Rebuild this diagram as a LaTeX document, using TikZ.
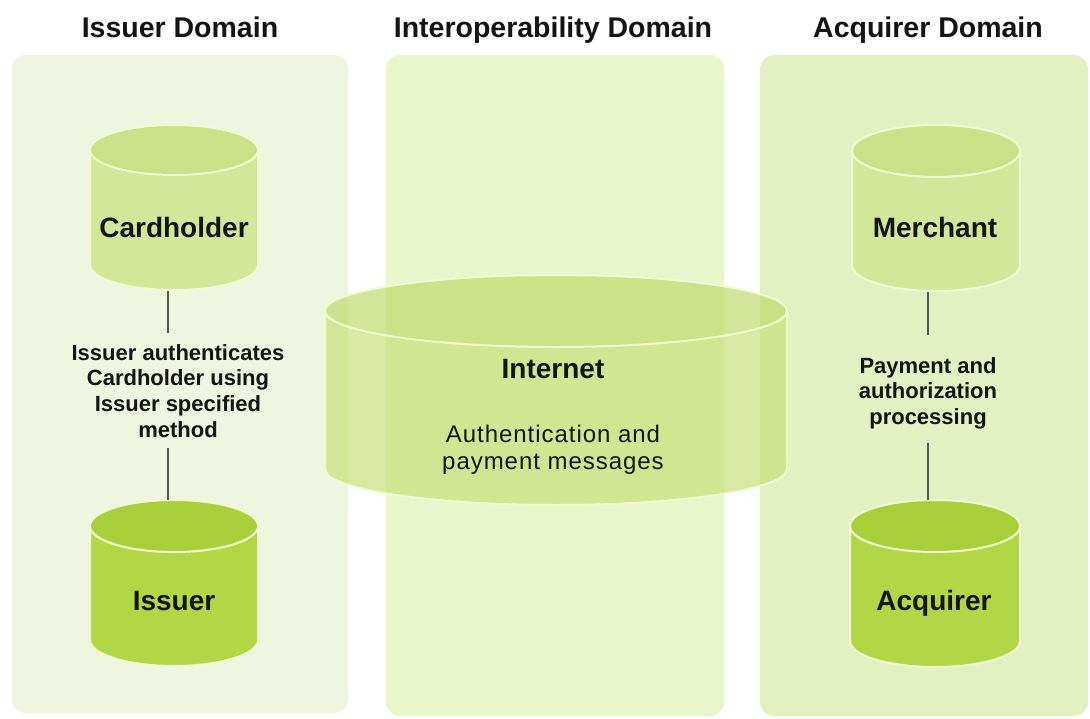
\documentclass[tikz,border=0pt]{standalone}
\usepackage{fontspec}
\setmainfont{Liberation Sans}
\definecolor{panelA}{HTML}{EFF6DF}
\definecolor{panelB}{HTML}{E9F5CB}
\definecolor{panelC}{HTML}{E3F0C2}
\definecolor{paleBody}{HTML}{D3E79A}
\definecolor{paleTop}{HTML}{CAE187}
\definecolor{brightBody}{HTML}{B2D746}
\definecolor{brightTop}{HTML}{A8D03A}
\definecolor{netBody}{HTML}{C5DE72}
\definecolor{netTop}{HTML}{BCD862}
\definecolor{rim}{HTML}{F3FAD2}
\definecolor{ink}{HTML}{141414}
\definecolor{wire}{HTML}{555555}
% drum: centre x, top-ellipse centre y, bottom-ellipse centre y, x radius, y radius, body colour, top colour, opacity
\newcommand\drum[8]{%
  \fill[#6, fill opacity=#8] (#1-#4,#2) -- (#1-#4,#3)
    arc[start angle=180, end angle=0, x radius=#4, y radius=#5] -- (#1+#4,#2)
    arc[start angle=0, end angle=180, x radius=#4, y radius=#5] -- cycle;
  \draw[rim, line width=2pt] (#1-#4,#2) -- (#1-#4,#3)
    arc[start angle=180, end angle=0, x radius=#4, y radius=#5] -- (#1+#4,#2);
  \filldraw[fill=#7, fill opacity=#8, draw=rim, line width=2pt] (#1,#2) ellipse [x radius=#4, y radius=#5];
}
\begin{document}
\begin{tikzpicture}[x=1pt, y=-1pt,
  panel/.style={rounded corners=14pt},
  title/.style={anchor=base, text=ink, font=\fontsize{28.5}{31}\selectfont\bfseries},
  drumlabel/.style={anchor=base, text=ink, font=\fontsize{28}{31}\selectfont\bfseries},
  sidelabel/.style={anchor=north, inner sep=0pt, align=center, text=ink, font=\fontsize{22}{25.7}\selectfont\bfseries},
  msglabel/.style={anchor=north, inner sep=0pt, align=center, text=ink, font=\fontsize{24}{27}\selectfont\addfontfeature{LetterSpace=4}},
  link/.style={draw=wire, line width=1.5pt}
]
\useasboundingbox (0,0) rectangle (1090,718);
\fill[white] (0,0) rectangle (1090,718);

% domain panels
\fill[panel, panelA] (12,55) rectangle (348,713);
\fill[panel, panelB] (386,55) rectangle (724,716);
\fill[panel, panelC] (760,55) rectangle (1088,716);

% domain titles
\node[title] (tIss) at (180,37) {Issuer Domain};
\node[title] (tInt) at (553,37) {Interoperability Domain};
\node[title] (tAcq) at (928,37) {Acquirer Domain};

% issuer side
\drum{174}{150}{265}{84}{25}{paleBody}{paleTop}{1}
\drum{174}{526}{640}{84}{26}{brightBody}{brightTop}{1}
\node[drumlabel] (card) at (174,237) {Cardholder};
\node[drumlabel] (iss) at (174,610) {Issuer};
\node[sidelabel] (auth) at (178,344) {Issuer authenticates\\Cardholder using\\Issuer specified\\method};
\coordinate (cardB) at (168,291);
\coordinate (authT) at (168,333);
\coordinate (authB) at (168,448);
\coordinate (issT) at (168,500);
\draw[link] (cardB) -- (authT);
\draw[link] (authB) -- (issT);

% acquirer side
\drum{936}{151}{265}{84}{26}{paleBody}{paleTop}{1}
\drum{935}{526}{641}{85}{26}{brightBody}{brightTop}{1}
\node[drumlabel] (merch) at (935,237) {Merchant};
\node[drumlabel] (acq) at (934,610) {Acquirer};
\node[sidelabel] (pay) at (928,357) {Payment and\\authorization\\processing};
\coordinate (merchB) at (928,292);
\coordinate (payT) at (928,335);
\coordinate (payB) at (928,443);
\coordinate (acqT) at (928,500);
\draw[link] (merchB) -- (payT);
\draw[link] (payB) -- (acqT);

% interoperability: the internet drum, see-through
\drum{556}{311}{469}{231}{36}{netBody}{netTop}{0.65}
\node[drumlabel] (inet) at (553,378) {Internet};
\node[msglabel] (msg) at (553,424.5) {Authentication and\\payment messages};
\end{tikzpicture}
\end{document}
